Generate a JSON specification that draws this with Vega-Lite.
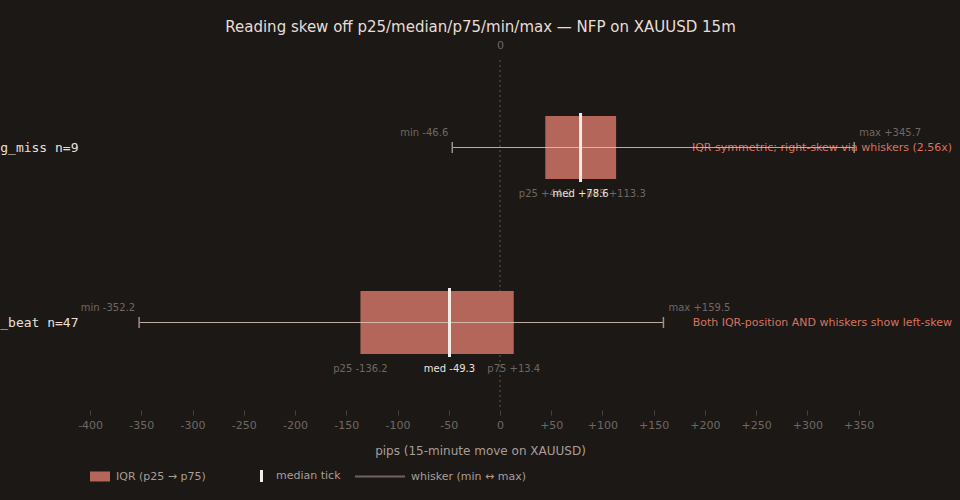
{
  "$schema": "https://vega.github.io/schema/vega-lite/v6.json",
  "description": "Box-style summary of NFP 15-minute moves on XAUUSD, miss vs beat",
  "width": 871,
  "height": 350,
  "autosize": "none",
  "padding": {"left": 85, "top": 60, "right": 4, "bottom": 90},
  "background": "#1c1816",
  "title": {
    "text": "Reading skew off p25/median/p75/min/max — NFP on XAUUSD 15m",
    "color": "#e6ded6",
    "font": "DejaVu Sans",
    "fontSize": 15,
    "fontWeight": "normal",
    "dx": -40,
    "offset": 4
  },
  "config": {
    "view": {"stroke": null},
    "axis": {"grid": false, "domain": false, "labelFont": "DejaVu Sans", "titleFont": "DejaVu Sans"},
    "legend": {"labelFont": "DejaVu Sans"}
  },
  "datasets": {
    "stats": [
      {"cat": "big_miss n=9", "p25": 44.2, "med": 78.6, "p75": 113.3, "min": -46.6, "max": 345.7, "note": "IQR symmetric; right-skew via whiskers (2.56x)"},
      {"cat": "big_beat n=47", "p25": -136.2, "med": -49.3, "p75": 13.4, "min": -352.2, "max": 159.5, "note": "Both IQR-position AND whiskers show left-skew"}
    ],
    "legend": [
      {"leg": "IQR (p25 → p75)"},
      {"leg": "median tick"},
      {"leg": "whisker (min ↔ max)"}
    ]
  },
  "data": {"name": "stats"},
  "transform": [
    {"calculate": "'min ' + (datum.min > 0 ? '+' : '') + datum.min", "as": "minLabel"},
    {"calculate": "'max ' + (datum.max > 0 ? '+' : '') + datum.max", "as": "maxLabel"},
    {"calculate": "'p25 ' + (datum.p25 > 0 ? '+' : '') + datum.p25", "as": "p25Label"},
    {"calculate": "'p75 ' + (datum.p75 > 0 ? '+' : '') + datum.p75", "as": "p75Label"},
    {"calculate": "'med ' + (datum.med > 0 ? '+' : '') + datum.med", "as": "medLabel"}
  ],
  "encoding": {
    "y": {
      "field": "cat",
      "type": "nominal",
      "sort": ["big_miss n=9", "big_beat n=47"],
      "scale": {"type": "point", "padding": 0.5},
      "axis": {
        "title": null,
        "ticks": false,
        "labelFont": "DejaVu Sans Mono",
        "labelFontSize": 13,
        "labelColor": "#e8e0d8",
        "labelPadding": 7,
        "labelLimit": 0
      }
    }
  },
  "layer": [
    {
      "mark": {"type": "rule", "color": "#4a423c", "strokeDash": [2, 3], "strokeWidth": 1},
      "encoding": {
        "y": null,
        "x": {
          "datum": 0,
          "type": "quantitative",
          "axis": {
            "orient": "top",
            "values": [0],
            "ticks": false,
            "title": null,
            "labelColor": "#6f6862",
            "labelFontSize": 11,
            "labelPadding": 10
          }
        }
      }
    },
    {
      "mark": {"type": "text", "align": "right", "baseline": "middle", "dx": -4, "color": "#d9735f", "fontSize": 11, "font": "DejaVu Sans"},
      "encoding": {
        "x": {"value": "width"},
        "text": {"field": "note"}
      }
    },
    {
      "mark": {"type": "bar", "color": "#b5665a", "size": 63},
      "encoding": {
        "x": {
          "field": "p25",
          "type": "quantitative",
          "scale": {"domain": [-405, 445], "nice": false, "zero": false},
          "axis": {
            "values": [-400, -350, -300, -250, -200, -150, -100, -50, 0, 50, 100, 150, 200, 250, 300, 350],
            "labelExpr": "datum.value > 0 ? '+' + datum.value : '' + datum.value",
            "labelColor": "#6f6862",
            "labelFontSize": 11,
            "labelPadding": 4,
            "tickColor": "#4a423d",
            "tickSize": 5,
            "title": "pips (15-minute move on XAUUSD)",
            "titleColor": "#a89e96",
            "titleFontSize": 12,
            "titleFontWeight": "normal",
            "titlePadding": 15,
            "titleX": 395
          }
        },
        "x2": {"field": "p75"}
      }
    },
    {
      "mark": {"type": "rule", "color": "#d8c6b6", "strokeWidth": 1, "opacity": 0.85},
      "encoding": {
        "x": {"field": "min", "type": "quantitative", "axis": null},
        "x2": {"field": "max"}
      }
    },
    {
      "mark": {"type": "tick", "color": "#9c8f86", "size": 11, "thickness": 1.5, "orient": "vertical", "opacity": 1},
      "encoding": {"x": {"field": "min", "type": "quantitative", "axis": null}}
    },
    {
      "mark": {"type": "tick", "color": "#9c8f86", "size": 11, "thickness": 1.5, "orient": "vertical", "opacity": 1},
      "encoding": {"x": {"field": "max", "type": "quantitative", "axis": null}}
    },
    {
      "mark": {"type": "tick", "color": "#f4ede6", "size": 69, "thickness": 3, "orient": "vertical", "opacity": 1},
      "encoding": {"x": {"field": "med", "type": "quantitative", "axis": null}}
    },
    {
      "mark": {"type": "text", "align": "right", "dx": -4, "dy": -15, "color": "#6f6862", "fontSize": 10, "font": "DejaVu Sans"},
      "encoding": {"x": {"field": "min", "type": "quantitative", "axis": null}, "text": {"field": "minLabel"}}
    },
    {
      "mark": {"type": "text", "align": "left", "dx": 5, "dy": -15, "color": "#6f6862", "fontSize": 10, "font": "DejaVu Sans"},
      "encoding": {"x": {"field": "max", "type": "quantitative", "axis": null}, "text": {"field": "maxLabel"}}
    },
    {
      "mark": {"type": "text", "align": "center", "dy": 46, "color": "#6f6862", "fontSize": 10, "font": "DejaVu Sans"},
      "encoding": {"x": {"field": "p25", "type": "quantitative", "axis": null}, "text": {"field": "p25Label"}}
    },
    {
      "mark": {"type": "text", "align": "center", "dy": 46, "color": "#6f6862", "fontSize": 10, "font": "DejaVu Sans"},
      "encoding": {"x": {"field": "p75", "type": "quantitative", "axis": null}, "text": {"field": "p75Label"}}
    },
    {
      "mark": {"type": "text", "align": "center", "dy": 46, "color": "#ebe3db", "fontSize": 10, "font": "DejaVu Sans"},
      "encoding": {"x": {"field": "med", "type": "quantitative", "axis": null}, "text": {"field": "medLabel"}}
    },
    {
      "data": {"name": "legend"},
      "transform": [],
      "mark": {"type": "point", "filled": true, "clip": true, "opacity": 1},
      "encoding": {
        "y": null,
        "x": {"datum": -2000, "type": "quantitative", "axis": null},
        "color": {
          "field": "leg",
          "type": "nominal",
          "scale": {
            "domain": ["IQR (p25 → p75)", "median tick", "whisker (min ↔ max)"],
            "range": ["#b5665a", "#f4ede6", "#6e645d"]
          },
          "legend": {
            "orient": "none",
            "legendX": -25,
            "legendY": 391,
            "direction": "horizontal",
            "title": null,
            "symbolSize": 2500,
            "symbolStrokeWidth": 0,
            "symbolOpacity": 1,
            "labelColor": "#a89e96",
            "labelFontSize": 11,
            "labelOffset": 6,
            "columnPadding": 14,
            "encode": {"symbols": {"update": {"opacity": {"value": 1}}}}
          }
        },
        "shape": {
          "field": "leg",
          "type": "nominal",
          "scale": {
            "domain": ["IQR (p25 → p75)", "median tick", "whisker (min ↔ max)"],
            "range": ["M0.2,-0.2H1V0.2H0.2Z", "M0.6,-0.24H0.72V0.24H0.6Z", "M-1,-0.04H1V0.04H-1Z"]
          }
        }
      }
    }
  ],
  "resolve": {"axis": {"x": "independent"}}
}
